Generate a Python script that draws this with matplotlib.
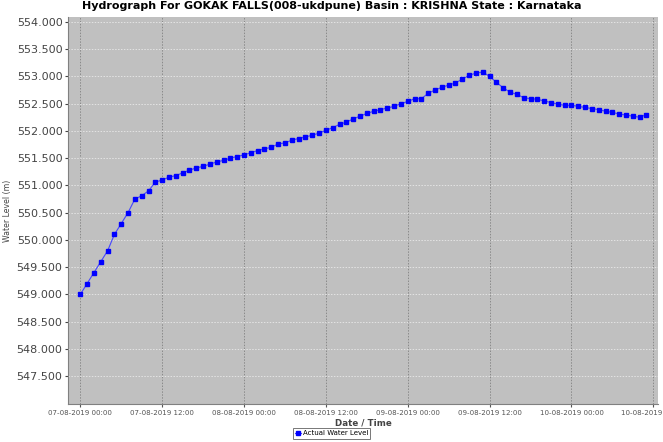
import numpy as np
import pandas as pd
import matplotlib
matplotlib.use('Agg')
import matplotlib.pyplot as plt
import matplotlib.dates as mdates

# hourly water level readings, 07-08-2019 00:00 onwards
start = '2019-08-07 00:00'
levels = [549.00, 549.20, 549.40, 549.60, 549.80, 550.10, 550.30, 550.50,
          550.75, 550.81, 550.90, 551.06, 551.10, 551.15, 551.18, 551.23,
          551.28, 551.32, 551.35, 551.39, 551.43, 551.46, 551.50, 551.53,
          551.56, 551.60, 551.64, 551.67, 551.70, 551.76, 551.78, 551.83,
          551.86, 551.89, 551.92, 551.96, 552.01, 552.06, 552.12, 552.16,
          552.22, 552.27, 552.32, 552.36, 552.39, 552.42, 552.45, 552.50,
          552.54, 552.59, 552.59, 552.69, 552.75, 552.80, 552.84, 552.88,
          552.95, 553.02, 553.06, 553.08, 553.00, 552.89, 552.79, 552.71,
          552.67, 552.61, 552.59, 552.58, 552.55, 552.52, 552.49, 552.47,
          552.47, 552.45, 552.43, 552.41, 552.39, 552.36, 552.34, 552.31,
          552.29, 552.27, 552.25, 552.30]
times = pd.date_range(start, periods=len(levels), freq='h')

title = 'Hydrograph For GOKAK FALLS(008-ukdpune) Basin : KRISHNA State : Karnataka'
series_name = 'Actual Water Level'
yticks = np.arange(547.5, 554.01, 0.5)

fig = plt.figure(figsize=(6.63, 4.42), dpi=100)
ax = fig.add_axes([0.1026, 0.086, 0.89, 0.8756])
ax.set_facecolor('#c0c0c0')

ax.plot(times, levels, color='#4646ff', lw=0.8, marker='s', markersize=3.5,
        markerfacecolor='#0000ff', markeredgecolor='#0000ff', label=series_name)

t0 = pd.Timestamp(start)
ax.set_xlim(t0 - pd.Timedelta(hours=1.8), t0 + pd.Timedelta(hours=84.7))
ax.set_ylim(546.99, 554.09)

ax.xaxis.set_major_locator(mdates.HourLocator(byhour=[0, 12]))
ax.xaxis.set_major_formatter(mdates.DateFormatter('%d-%m-%Y %H:%M'))
ax.set_yticks(yticks)
ax.yaxis.set_major_formatter(matplotlib.ticker.FormatStrFormatter('%.3f'))

ax.tick_params(axis='x', labelsize=5.1, colors='#555555', length=2, pad=2)
ax.tick_params(axis='y', labelsize=8, colors='#444444', length=2, pad=2)

ax.xaxis.grid(True, color='#8a8a8a', linestyle=(0, (1.5, 1.5)), lw=0.7)
ax.yaxis.grid(True, color='#e4e4e4', linestyle=(0, (1.5, 1.5)), lw=0.7)
ax.set_axisbelow(True)

for s in ['top', 'right']:
    ax.spines[s].set_visible(False)
for s in ['left', 'bottom']:
    ax.spines[s].set_color('#808080')

ax.set_xlabel('Date / Time', fontsize=6.3, fontweight='bold', color='#444444', labelpad=2)
ax.set_ylabel('Water Level (m)', fontsize=5.6, color='#444444')
ax.yaxis.set_label_coords(-0.095, 0.5)

fig.text(0.5, 0.997, title, ha='center', va='top', fontsize=8, fontweight='bold')

leg = fig.legend(loc='lower center', bbox_to_anchor=(0.5, 0.0), fontsize=5,
                 frameon=True, fancybox=False, edgecolor='#555555',
                 handlelength=0.9, markerscale=0.8, borderpad=0.3,
                 handletextpad=0.2)
leg.get_frame().set_linewidth(0.7)

fig.savefig('out.png', dpi=100)
